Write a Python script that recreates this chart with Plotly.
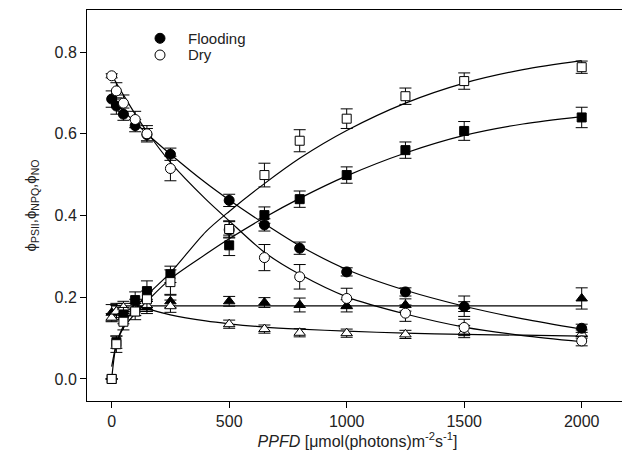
import plotly.graph_objects as go

# ---------------- data ----------------
ppfd = [0, 20, 50, 100, 150, 250, 500, 650, 800, 1000, 1250, 1500, 2000]

flood_psii = [0.685, 0.668, 0.648, 0.620, 0.598, 0.550, 0.437, 0.377, 0.320, 0.262, 0.213, 0.177, 0.124]
flood_psii_err = [0.02, 0.02, 0.015, 0.015, 0.015, 0.015, 0.015, 0.015, 0.015, 0.01, 0.01, 0.012, 0.01]
dry_psii = [0.742, 0.705, 0.675, 0.635, 0.600, 0.515, 0.365, 0.297, 0.250, 0.197, 0.161, 0.126, 0.093]
dry_psii_err = [0.005, 0.02, 0.02, 0.02, 0.02, 0.03, 0.02, 0.032, 0.03, 0.025, 0.02, 0.02, 0.012]

flood_npq = [0.0, 0.090, 0.155, 0.193, 0.215, 0.256, 0.327, 0.401, 0.440, 0.499, 0.560, 0.607, 0.640]
flood_npq_err = [0.0, 0.015, 0.02, 0.02, 0.025, 0.02, 0.025, 0.02, 0.02, 0.02, 0.02, 0.023, 0.025]
dry_npq = [0.0, 0.085, 0.140, 0.165, 0.195, 0.237, 0.367, 0.499, 0.583, 0.637, 0.692, 0.729, 0.763]
dry_npq_err = [0.0, 0.02, 0.02, 0.02, 0.02, 0.03, 0.02, 0.029, 0.027, 0.024, 0.02, 0.02, 0.015]

flood_no = [0.162, 0.165, 0.170, 0.175, 0.175, 0.190, 0.190, 0.187, 0.181, 0.179, 0.181, 0.178, 0.197]
flood_no_err = [0.02, 0.02, 0.015, 0.02, 0.015, 0.015, 0.012, 0.012, 0.017, 0.015, 0.015, 0.025, 0.026]
dry_no = [0.150, 0.165, 0.175, 0.170, 0.180, 0.178, 0.134, 0.122, 0.113, 0.112, 0.109, 0.116, 0.110]
dry_no_err = [0.01, 0.015, 0.015, 0.015, 0.015, 0.015, 0.01, 0.01, 0.01, 0.01, 0.01, 0.015, 0.01]

# fitted curves
fit_x = [0, 20, 50, 100, 150, 250, 400, 500, 650, 800, 1000, 1250, 1500, 1750, 2000]
fit_flood_psii = [0.690, 0.676, 0.656, 0.628, 0.600, 0.550, 0.480, 0.438, 0.380, 0.326, 0.268, 0.217, 0.178, 0.147, 0.122]
fit_dry_psii = [0.745, 0.724, 0.695, 0.648, 0.605, 0.530, 0.440, 0.387, 0.310, 0.256, 0.201, 0.159, 0.127, 0.106, 0.091]
fit_flood_npq = [0.030, 0.085, 0.125, 0.160, 0.190, 0.245, 0.305, 0.343, 0.395, 0.442, 0.497, 0.553, 0.596, 0.624, 0.642]
fit_dry_npq = [0.0, 0.085, 0.130, 0.175, 0.205, 0.260, 0.360, 0.410, 0.478, 0.540, 0.608, 0.675, 0.724, 0.757, 0.779]
fit_flat_x = [0, 2000]
fit_flood_no = [0.179, 0.179]
fit_no_x = [100, 150, 250, 400, 500, 650, 800, 1000, 1250, 1500, 1750, 2000]
fit_dry_no = [0.182, 0.172, 0.157, 0.142, 0.135, 0.127, 0.122, 0.117, 0.112, 0.109, 0.107, 0.105]

x_ticks = [0, 500, 1000, 1500, 2000]
y_ticks = [0.0, 0.2, 0.4, 0.6, 0.8]
series_names = ["Flooding", "Dry"]

FONT = "Liberation Sans, Arial, sans-serif"
TXT = "#222"
fig = go.Figure()

line_style = dict(color="black", width=1.2, shape="spline", smoothing=0.8)
for fx, fy in [(fit_x, fit_flood_psii), (fit_x, fit_dry_psii), (fit_x, fit_flood_npq),
               (fit_x, fit_dry_npq), (fit_flat_x, fit_flood_no), (fit_no_x, fit_dry_no)]:
    fig.add_trace(go.Scatter(x=fx, y=fy, mode="lines", line=line_style,
                             showlegend=False, hoverinfo="skip"))


def pts(y, err, symbol, filled, size):
    fig.add_trace(go.Scatter(
        x=ppfd, y=y, mode="markers", showlegend=False,
        marker=dict(symbol=symbol, size=size, color="black" if filled else "white",
                    line=dict(color="black", width=1)),
        error_y=dict(type="data", array=err, visible=True, color="black",
                     thickness=1, width=6)))


pts(flood_no, flood_no_err, "triangle-up", True, 10)
pts(dry_no, dry_no_err, "triangle-up", False, 10)
pts(flood_npq, flood_npq_err, "square", True, 9)
pts(flood_psii, flood_psii_err, "circle", True, 10)
pts(dry_psii, dry_psii_err, "circle", False, 10)
pts(dry_npq, dry_npq_err, "square", False, 9)

# ---- legend (symbols as pixel-sized shapes, labels as annotations) ----
W, H = 622, 450
L, R, T, B = 79, 2, 2, 57
pw, ph = W - L - R, H - T - B


def px(x):
    return (x - L) / pw


def py(y):
    return 1 - (y - T) / ph


legend_rows = [(30.3, "black"), (47.0, "white")]
shapes = []
annotations = []
for (yy, fill), name in zip(legend_rows, series_names):
    shapes.append(dict(type="circle", xref="paper", yref="paper",
                       xsizemode="pixel", ysizemode="pixel",
                       xanchor=px(152), yanchor=py(yy), x0=-5, x1=5, y0=-5, y1=5,
                       fillcolor=fill, line=dict(color="black", width=1)))
    annotations.append(dict(text=name, xref="paper", yref="paper", x=px(178),
                            y=py(yy), xanchor="left", yanchor="middle", showarrow=False,
                            font=dict(family=FONT, size=15, color=TXT)))

axis_common = dict(showline=True, linecolor="black", linewidth=1, mirror=True,
                   ticks="outside", ticklen=6, tickcolor="black", showgrid=False,
                   zeroline=False, tickfont=dict(family=FONT, size=16, color=TXT))

fig.update_layout(
    width=W, height=H,
    margin=dict(l=L, r=R, t=T, b=B),
    paper_bgcolor="white", plot_bgcolor="white",
    font=dict(family=FONT, size=16, color=TXT),
    showlegend=False,
    shapes=shapes,
    annotations=annotations,
    xaxis=dict(range=[-105, 2197], tickvals=x_ticks, ticktext=[str(v) for v in x_ticks],
               title=dict(text="<i>PPFD</i> [μmol(photons)m<sup>-2</sup>s<sup>-1</sup>]",
                          font=dict(family=FONT, size=16, color=TXT), standoff=2),
               **axis_common),
    yaxis=dict(range=[-0.054, 0.903], tickvals=y_ticks, ticktext=[f"{v:.1f}" for v in y_ticks],
               title=dict(text="ϕ<sub>PSII</sub>,ϕ<sub>NPQ</sub>,ϕ<sub>NO</sub>",
                          font=dict(family=FONT, size=15, color=TXT), standoff=14),
               **axis_common),
)

fig.write_html("out.html")
